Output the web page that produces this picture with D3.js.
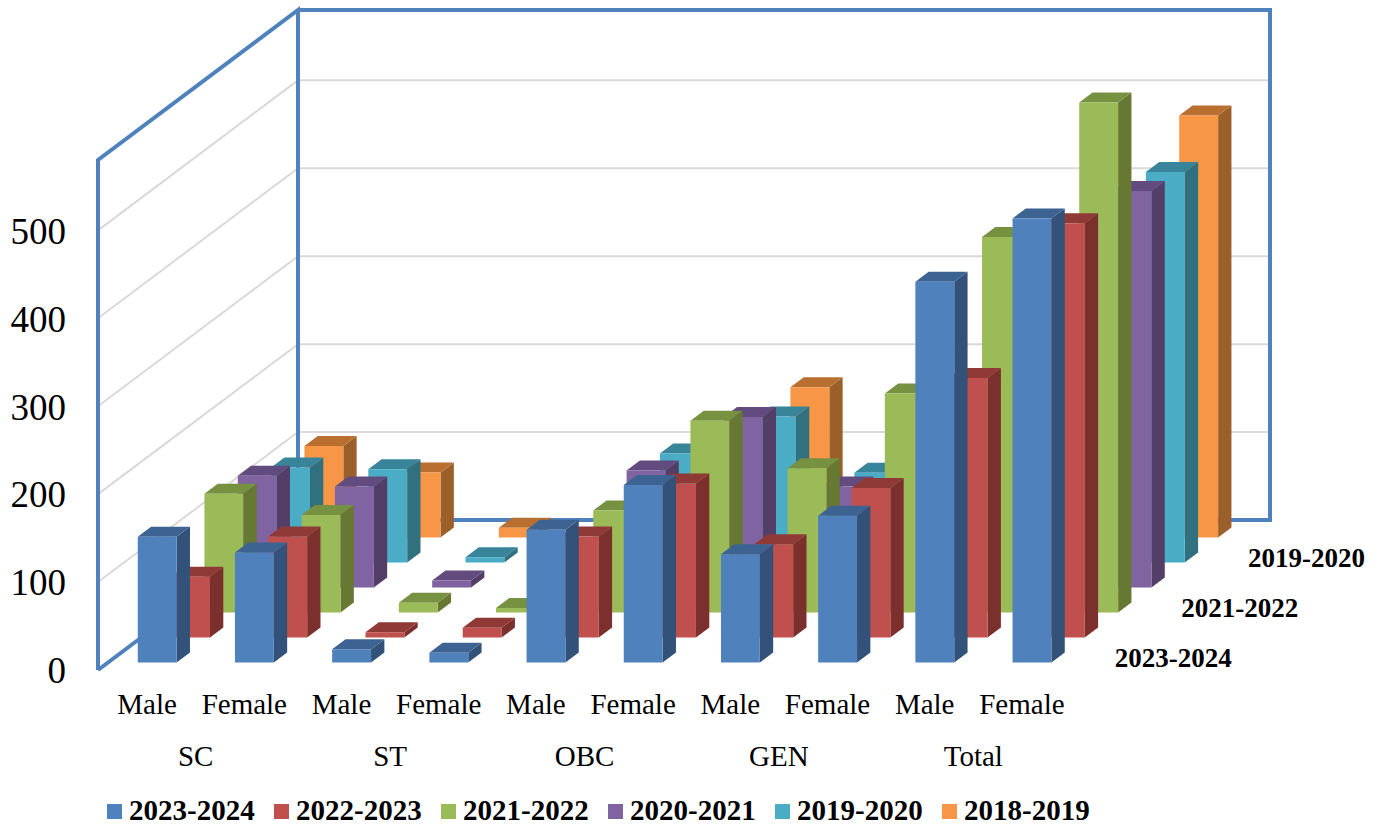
<!DOCTYPE html>
<html lang="en">
<head>
  <meta charset="UTF-8">
  <title>Enrolment by category</title>
  <script src="https://d3js.org/d3.v7.min.js" charset="utf-8"></script>
  <style>
    html, body {
      margin: 0;
      padding: 0;
      background: #fff;
      overflow: hidden;
    }

    svg {
      display: block;
      font-family: 'Liberation Serif', serif;
      color: #000;
    }
  </style>
</head>
<body>
  <div id="wrapper"></div>
  <script>
    const groups = ['SC', 'ST', 'OBC', 'GEN', 'Total']
    const genders = ['Male', 'Female']
    const seriesNames = ['2023-2024', '2022-2023', '2021-2022', '2020-2021', '2019-2020', '2018-2019']
    const depthLabels = ['2023-2024', '2021-2022', '2019-2020']
    const valueTicks = [0, 100, 200, 300, 400, 500]
    const gridTicks = [100, 200, 300, 400, 500]

    // one value per bar: SC M/F, ST M/F, OBC M/F, GEN M/F, Total M/F
    const values2023 = [143, 125, 15, 11, 151, 202, 123, 167, 433, 505]
    const values2022 = [69, 115, 6, 11, 115, 175, 106, 170, 295, 471]
    const values2021 = [135, 111, 11, 5, 116, 218, 164, 249, 427, 580]
    const values2020 = [127, 115, 8, 4, 133, 194, 115, 230, 380, 451]
    const values2019 = [108, 106, 6, 3, 124, 166, 102, 205, 350, 444]
    const values2018 = [104, 74, 11, 2, 100, 171, 150, 190, 370, 480]
    const seriesValues = [values2023, values2022, values2021, values2020, values2019, values2018]

    const frontColors = ['#4f81bd', '#c0504d', '#9bbb59', '#8064a2', '#4bacc6', '#f79646']
    const topColors = ['#3d6392', '#8f3a37', '#769140', '#624b7e', '#38859b', '#b96f30']
    const sideColors = ['#32527a', '#7c302d', '#667832', '#523e66', '#31707f', '#9b5f2a']

    const dimensions = {
      width: 1379,
      height: 825,
      floorLeft: 98,
      floorRight: 1070,
      floorFront: 670,
      wallTop: 160,
      depthX: 200,
      depthY: -150,
      barShift: 0.6,
    }

    const wrapper = d3.select('#wrapper')
      .append('svg')
        .attr('width', dimensions.width)
        .attr('height', dimensions.height)

    const bars = genders.length * groups.length
    const barKeys = d3.range(bars)

    const xScale = d3.scaleBand()
      .domain(barKeys)
      .range([dimensions.floorLeft + dimensions.barShift, dimensions.floorRight + dimensions.barShift])
      .paddingInner(0.6)
      .paddingOuter(0.3)

    const groupScale = d3.scaleBand()
      .domain(groups)
      .range([dimensions.floorLeft, dimensions.floorRight])

    const yScale = d3.scaleLinear()
      .domain([0, 580])
      .range([dimensions.floorFront, dimensions.wallTop])

    const depthScale = d3.scaleBand()
      .domain(seriesNames)
      .range([0, 1])
      .paddingInner(0.6)
      .paddingOuter(0.3)

    // the oblique projection: depth 0 is the front of the floor, 1 the back wall
    const project = (x, y, depth) => [
      x + depth * dimensions.depthX,
      y + depth * dimensions.depthY,
    ]
    const polygon = d3.line().curve(d3.curveLinearClosed)

    // walls
    const walls = wrapper.append('g')
    const [xMin, xMax] = [dimensions.floorLeft, dimensions.floorRight]
    const [yMin, yMax] = [yScale(0), yScale(580)]

    const gridPath = value => [
      project(xMin, yScale(value), 0),
      project(xMin, yScale(value), 1),
      project(xMax, yScale(value), 1),
    ]
    walls.selectAll('.grid')
      .data(gridTicks)
      .join('path')
        .attr('class', 'grid')
        .attr('d', d => d3.line()(gridPath(d)))
        .attr('fill', 'none')
        .attr('stroke', '#d9d9d9')
        .attr('stroke-width', 2)

    const wallLines = [
      [project(xMin, yMin, 0), project(xMin, yMax, 0), project(xMin, yMax, 1), project(xMin, yMin, 1)],
      [project(xMin, yMax, 1), project(xMax, yMax, 1), project(xMax, yMin, 1), project(xMin, yMin, 1), project(xMin, yMin, 0)],
    ]
    walls.selectAll('.frame')
      .data(wallLines)
      .join('path')
        .attr('class', 'frame')
        .attr('d', d => d3.line()(d))
        .attr('fill', 'none')
        .attr('stroke', '#4f81bd')
        .attr('stroke-width', 4)
        .attr('stroke-linejoin', 'miter')

    // bars, back row first so the nearer rows cover them
    const drawOrder = d3.range(seriesNames.length).reverse()
    const rows = wrapper.selectAll('.row')
      .data(drawOrder)
      .join('g')
        .attr('class', 'row')

    rows.each(function (s) {
      const d0 = depthScale(seriesNames[s])
      const d1 = d0 + depthScale.bandwidth()
      const row = d3.select(this)

      const bar = row.selectAll('g')
        .data(seriesValues[s])
        .join('g')

      const x0 = (d, i) => xScale(i)
      const x1 = (d, i) => xScale(i) + xScale.bandwidth()

      bar.append('path')
        .attr('d', (d, i) => polygon([
          project(x1(d, i), yScale(0), d0),
          project(x1(d, i), yScale(0), d1),
          project(x1(d, i), yScale(d), d1),
          project(x1(d, i), yScale(d), d0),
        ]))
        .attr('fill', sideColors[s])

      bar.append('path')
        .attr('d', (d, i) => polygon([
          project(x0(d, i), yScale(d), d0),
          project(x1(d, i), yScale(d), d0),
          project(x1(d, i), yScale(d), d1),
          project(x0(d, i), yScale(d), d1),
        ]))
        .attr('fill', topColors[s])

      bar.append('path')
        .attr('d', (d, i) => polygon([
          project(x0(d, i), yScale(0), d0),
          project(x1(d, i), yScale(0), d0),
          project(x1(d, i), yScale(d), d0),
          project(x0(d, i), yScale(d), d0),
        ]))
        .attr('fill', frontColors[s])
    })

    // value axis
    const yAxis = wrapper.append('g')
      .attr('transform', 'translate(72, 1)')
      .call(d3.axisLeft(yScale).tickValues(valueTicks).tickSize(0).tickPadding(6))
    yAxis.select('.domain').remove()
    yAxis.selectAll('text')
      .attr('font-family', "'Liberation Serif', serif")
      .attr('font-size', 37)
      .attr('fill', '#000')

    // gender labels and the group labels below them
    const genderAxis = d3.scaleBand()
      .domain(barKeys)
      .range([dimensions.floorLeft, dimensions.floorRight])

    const xAxis = wrapper.append('g')
      .attr('transform', 'translate(0.5, 687)')
      .call(d3.axisBottom(genderAxis)
        .tickSize(0)
        .tickPadding(6)
        .tickFormat(i => genders[i % genders.length]))
    xAxis.select('.domain').remove()
    xAxis.selectAll('text')
      .attr('font-family', "'Liberation Serif', serif")
      .attr('font-size', 29)
      .attr('fill', '#000')

    const groupAxis = wrapper.append('g')
      .attr('transform', 'translate(0.5, 739)')
      .call(d3.axisBottom(groupScale).tickSize(0).tickPadding(6))
    groupAxis.select('.domain').remove()
    groupAxis.selectAll('text')
      .attr('font-family', "'Liberation Serif', serif")
      .attr('font-size', 29)
      .attr('fill', '#000')

    // depth axis labels
    wrapper.append('g')
      .selectAll('text')
      .data(depthLabels)
      .join('text')
        .attr('x', d => project(xMax, yMin, depthScale(d) + depthScale.bandwidth() / 2)[0] + 28)
        .attr('y', d => project(xMax, yMin, depthScale(d) + depthScale.bandwidth() / 2)[1])
        .attr('dy', '0.35em')
        .attr('font-size', 27)
        .attr('font-weight', 'bold')
        .text(d => d)

    // legend
    const legendScale = d3.scalePoint()
      .domain(seriesNames)
      .range([107, 942])

    const legendItem = wrapper.append('g')
      .selectAll('g')
      .data(seriesNames)
      .join('g')
        .attr('transform', d => `translate(${legendScale(d)}, 804)`)

    legendItem.append('rect')
      .attr('width', 15)
      .attr('height', 15)
      .attr('fill', (d, i) => frontColors[i])

    legendItem.append('text')
      .attr('x', 22)
      .attr('y', 16)
      .attr('font-size', 29)
      .attr('font-weight', 'bold')
      .text(d => d)
  </script>
</body>
</html>
